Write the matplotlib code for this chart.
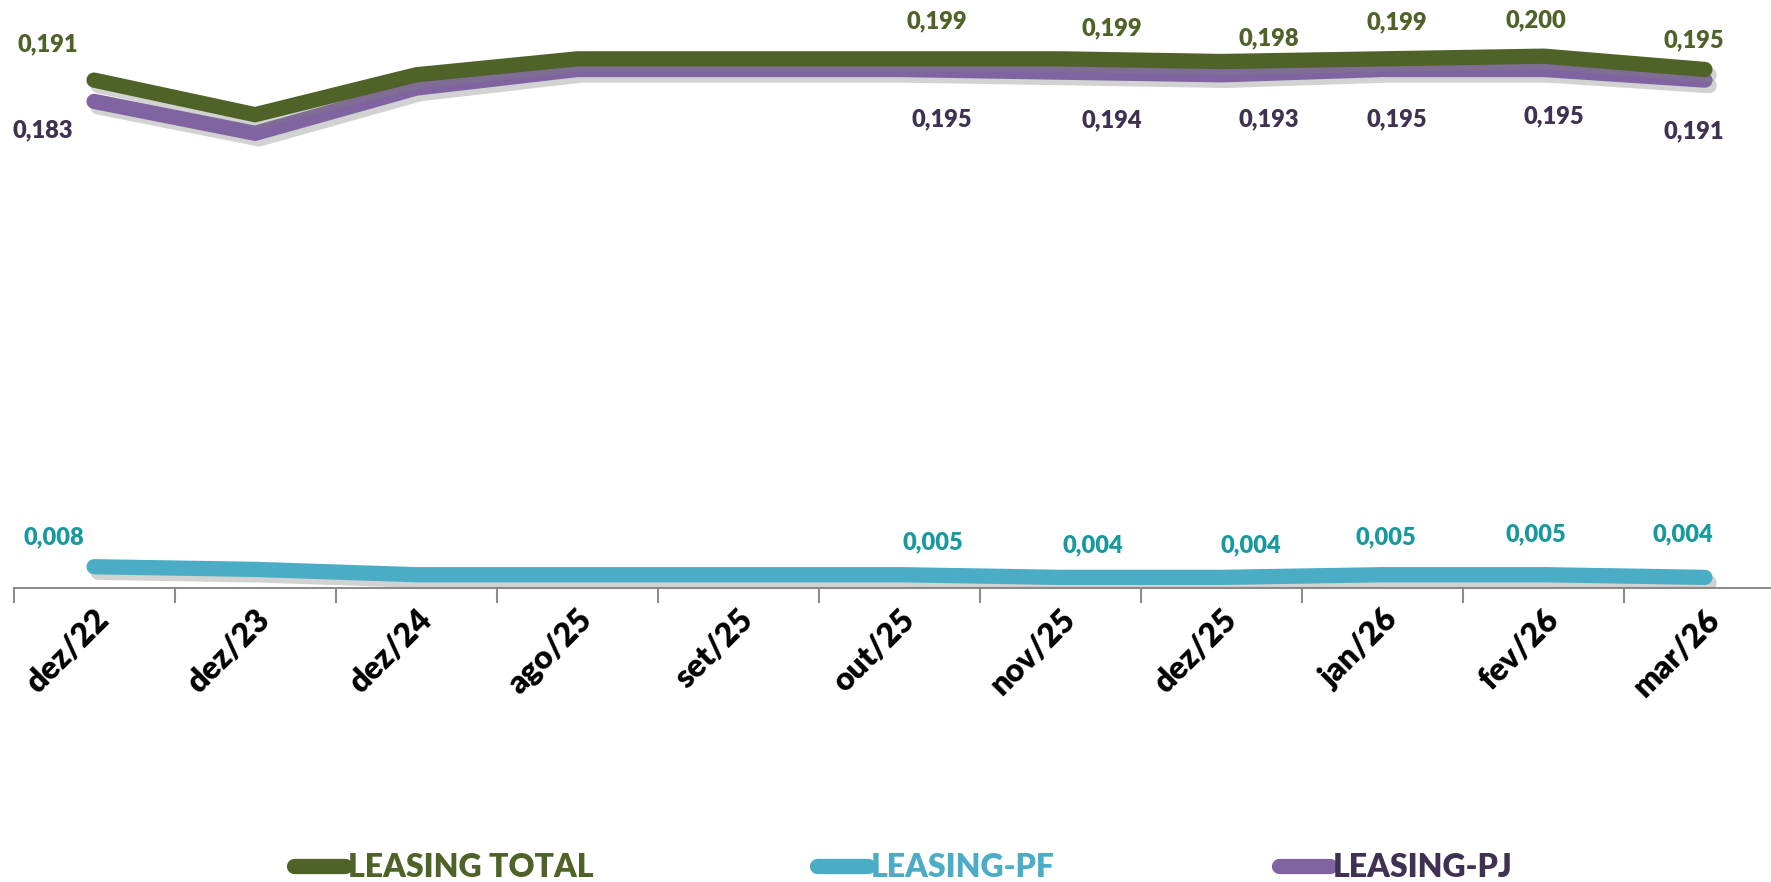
import matplotlib
matplotlib.use("Agg")
import matplotlib.pyplot as plt
import matplotlib.patheffects as pe
import numpy as np

plt.rcParams['font.family'] = ['Lato', 'DejaVu Sans']

# data
meses = ['dez/22', 'dez/23', 'dez/24', 'ago/25', 'set/25', 'out/25',
         'nov/25', 'dez/25', 'jan/26', 'fev/26', 'mar/26']
leasing_total = [0.191, 0.178, 0.193, 0.199, 0.199, 0.199, 0.199, 0.198, 0.199, 0.200, 0.195]
leasing_pf = [0.008, 0.007, 0.005, 0.005, 0.005, 0.005, 0.004, 0.004, 0.005, 0.005, 0.004]
leasing_pj = [0.183, 0.171, 0.188, 0.195, 0.195, 0.195, 0.194, 0.193, 0.195, 0.195, 0.191]
# which points carry a data label
rotulados = [0, 5, 6, 7, 8, 9, 10]

# label placement (dx in categories, dy in points)
off_total = [(-0.29, 26), (0.23, 27), (0.32, 22), (0.29, 17), (0.09, 26), (-0.05, 26), (-0.07, 21)]
off_pj = [(-0.32, -21), (0.26, -36), (0.32, -35), (0.29, -32), (0.09, -36), (0.06, -34), (-0.07, -37)]
off_pf = [(-0.25, 21), (0.21, 23), (0.2, 23), (0.18, 23), (0.02, 27), (-0.05, 29), (-0.14, 31)]

c_total = '#4f6228'
c_pf = '#4bacc6'
c_pj = '#8064a2'
t_total = '#4f6228'
t_pf = '#17999e'
t_pj = '#3f3151'

fig = plt.figure(figsize=(17.71, 8.82), dpi=100)
ax = fig.add_axes([13.5 / 1771, 294 / 882, 1 - 13.5 / 1771, 585 / 882])

x = np.arange(len(meses))
sombra = [pe.SimpleLineShadow(offset=(3, -4), shadow_color='#808080', alpha=0.35), pe.Normal()]

l1, = ax.plot(x, leasing_total, color=c_total, lw=11, solid_capstyle='round',
              solid_joinstyle='miter', path_effects=sombra, label='LEASING TOTAL', zorder=3)
l2, = ax.plot(x, leasing_pf, color=c_pf, lw=11, solid_capstyle='round',
              path_effects=sombra, label='LEASING-PF', zorder=3)
l3, = ax.plot(x, leasing_pj, color=c_pj, lw=11, solid_capstyle='round',
              solid_joinstyle='miter', path_effects=sombra, label='LEASING-PJ', zorder=2)


def rotulos(vals, offs, cor):
    for k, i in enumerate(rotulados):
        dx, dy = offs[k]
        txt = ('%.3f' % vals[i]).replace('.', ',')
        ax.annotate(txt, (i + dx, vals[i]), xytext=(0, dy), textcoords='offset points',
                    ha='center', va='center', color=cor, fontsize=17, fontweight='heavy')


rotulos(leasing_total, off_total, t_total)
rotulos(leasing_pj, off_pj, t_pj)
rotulos(leasing_pf, off_pf, t_pf)

ax.set_xlim(-0.5, 10.5 - 0.09)
ax.set_ylim(0, 0.22)
for s in ['top', 'right', 'left']:
    ax.spines[s].set_visible(False)
ax.spines['bottom'].set_color('#8c8c8c')
ax.spines['bottom'].set_linewidth(1.5)
ax.set_yticks([])
ax.set_xticks(x)
ax.set_xticklabels(meses, rotation=45, ha='right', va='top', rotation_mode='anchor',
                   fontsize=23, fontweight='heavy')
ax.tick_params(axis='x', which='major', length=0, pad=12)
ax.set_xticks(np.arange(-0.5, 10.5, 1), minor=True)
ax.tick_params(axis='x', which='minor', length=11, width=1.5, color='#8c8c8c', direction='out')

leg = fig.legend(handles=[l1, l2, l3], loc='center', bbox_to_anchor=(0.51, 0.016), ncol=3,
                 frameon=False, handlelength=1.6, handletextpad=0.1,
                 columnspacing=7.0, prop={'weight': 'heavy', 'size': 23})
for h in leg.legend_handles:
    h.set_path_effects([])
for t, c in zip(leg.get_texts(), [t_total, c_pf, t_pj]):
    t.set_color(c)

fig.savefig('out.png', dpi=100)
